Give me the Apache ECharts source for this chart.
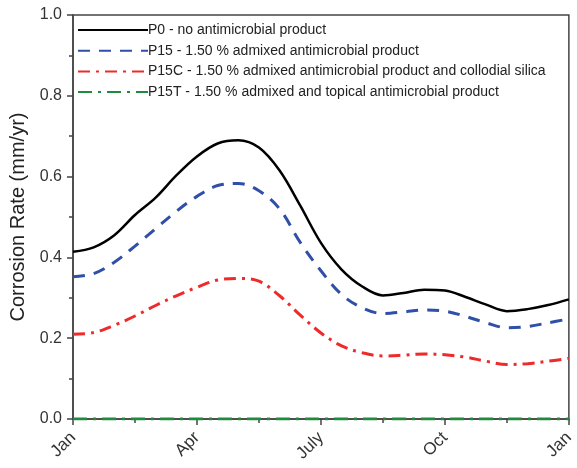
<!DOCTYPE html>
<html>
<head>
<meta charset="utf-8">
<script src="https://cdn.jsdelivr.net/npm/echarts@6/dist/echarts.min.js"></script>
<style>html,body{margin:0;padding:0;background:#fff}#c{width:577px;height:468px}</style>
</head>
<body>
<div id="c"></div>
<script>
const months = [0,0.5,1,1.5,2,2.5,3,3.5,4,4.5,5,5.5,6,6.5,7,7.5,8,8.5,9,9.5,10,10.5,11,11.5,12];
const p0   = [0.414,0.425,0.455,0.505,0.548,0.603,0.650,0.682,0.690,0.672,0.615,0.528,0.436,0.370,0.328,0.306,0.312,0.320,0.318,0.302,0.283,0.267,0.272,0.282,0.296];
const p15  = [0.352,0.360,0.388,0.428,0.471,0.514,0.551,0.578,0.583,0.565,0.520,0.437,0.367,0.308,0.275,0.261,0.265,0.270,0.267,0.254,0.238,0.226,0.229,0.238,0.248];
const p15c = [0.210,0.214,0.232,0.255,0.281,0.305,0.326,0.344,0.348,0.341,0.305,0.257,0.213,0.181,0.164,0.156,0.158,0.161,0.159,0.153,0.143,0.135,0.137,0.143,0.150];
const p15t = [0,0,0,0,0,0,0,0,0,0,0,0,0,0,0,0,0,0,0,0,0,0,0,0,0];
const tickMonths = [0,3,6,9,12];
const tickLabels = ['Jan','Apr','July','Oct','Jan'];
const names = ['P0 - no antimicrobial product','P15 - 1.50 % admixed antimicrobial product','P15C - 1.50 % admixed antimicrobial product and collodial silica','P15T - 1.50 % admixed and topical antimicrobial product'];

const pair = arr => months.map((m,i)=>[m,arr[i]]);
const axisCol = '#444';
const chart = echarts.init(document.getElementById('c'));
chart.setOption({
  animation:false,
  textStyle:{fontFamily:'Liberation Sans, Arial, sans-serif'},
  grid:{left:73,right:8,top:15,bottom:49,show:true,borderColor:axisCol,borderWidth:1.5,backgroundColor:'transparent'},
  legend:{
    orient:'vertical',left:72,top:18,itemWidth:70,itemHeight:14,itemGap:6.7,
    itemStyle:{opacity:0,borderWidth:0},
    textStyle:{fontSize:14,color:'#222',padding:[0,0,0,-5]},
    data:names
  },
  xAxis:{
    type:'value',min:0,max:12,interval:3,
    axisLine:{show:true,onZero:false,lineStyle:{color:axisCol,width:1.5}},
    axisTick:{show:true,length:6,lineStyle:{color:axisCol,width:1.5}},
    minorTick:{show:true,splitNumber:2,length:4,lineStyle:{color:axisCol,width:1.5}},
    splitLine:{show:false},
    axisLabel:{rotate:45,fontSize:17,color:'#333',margin:16,
      formatter:v=>{const k=tickMonths.indexOf(v);return k>=0?tickLabels[k]:'';}}
  },
  yAxis:{
    type:'value',min:0,max:1,interval:0.2,
    name:'Corrosion Rate (mm/yr)',nameLocation:'middle',nameGap:41,
    nameTextStyle:{fontSize:20,color:'#222'},
    axisLine:{show:true,lineStyle:{color:axisCol,width:1.5}},
    axisTick:{show:true,length:6,lineStyle:{color:axisCol,width:1.5}},
    minorTick:{show:true,splitNumber:2,length:4,lineStyle:{color:axisCol,width:1.5}},
    splitLine:{show:false},
    axisLabel:{fontSize:16,color:'#333',margin:11,formatter:v=>v.toFixed(1)}
  },
  series:[
    {name:names[0],type:'line',data:pair(p0),smooth:0.35,symbol:'none',z:3,
      color:'#000',lineStyle:{color:'#000',width:2.5,type:'solid'}},
    {name:names[1],type:'line',data:pair(p15),smooth:0.35,symbol:'none',z:3,
      color:'#2f4fa8',lineStyle:{color:'#2f4fa8',width:3,type:[12,9]}},
    {name:names[2],type:'line',data:pair(p15c),smooth:0.35,symbol:'none',z:3,
      color:'#ee2a2a',lineStyle:{color:'#ee2a2a',width:3,type:[12,6,3,6]}},
    {name:names[3],type:'line',data:pair(p15t),smooth:0.35,symbol:'none',z:4,
      color:'#1e8c3c',lineStyle:{color:'#1e8c3c',width:3,type:[14,6,3,6]}}
  ]
});
</script>
</body>
</html>
